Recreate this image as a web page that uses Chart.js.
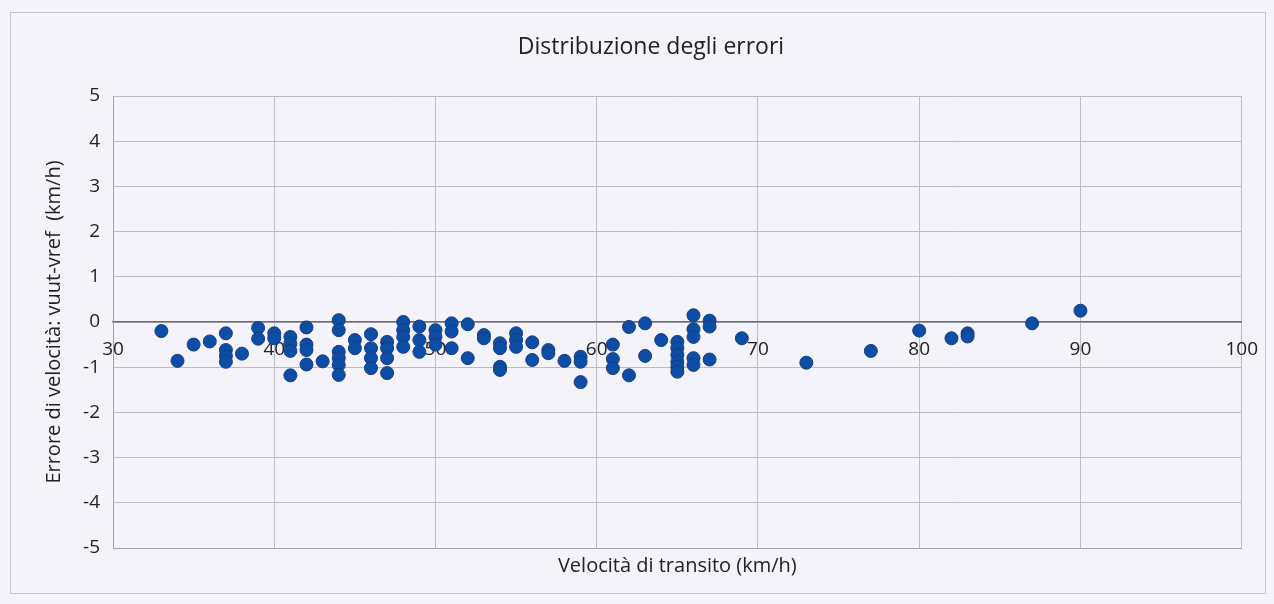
<!DOCTYPE html>
<html>
<head>
<meta charset="utf-8">
<script src="https://cdn.jsdelivr.net/npm/chart.js@4/dist/chart.umd.min.js"></script>
<style>
  body { margin: 0; background: #f3f3f9; }
  #wrap { position: relative; width: 1274px; height: 604px; }
  #frame { position: absolute; left: 10px; top: 12px; width: 1254px; height: 580px;
           border: 1px solid #c4c4cc; pointer-events: none; }
</style>
</head>
<body>
<div id="wrap">
  <canvas id="scatterChart" width="1274" height="604"></canvas>
  <div id="frame"></div>
</div>
<script>
// velocità di transito (km/h)
var speeds = [
    33, 34, 35, 36,
    37, 37, 37, 37,
    38, 39, 39, 40, 40,
    41, 41, 41, 41,
    42, 42, 42, 42,
    43,
    44, 44, 44, 44, 44, 44,
    45, 45,
    46, 46, 46, 46,
    47, 47, 47, 47,
    48, 48, 48, 48,
    49, 49, 49,
    50, 50, 50,
    51, 51, 51,
    52, 52, 53, 53,
    54, 54, 54, 54,
    55, 55, 55,
    56, 56, 57, 57, 58,
    59, 59, 59,
    61, 61, 61,
    62, 62, 63, 63, 64,
    65, 65, 65, 65, 65, 65,
    66, 66, 66, 66, 66,
    67, 67, 67,
    69, 73, 77, 80, 82, 83, 83, 87, 90
];
// errore vuut-vref (km/h)
var errors = [
    -0.2, -0.86, -0.5, -0.43,
    -0.25, -0.62, -0.75, -0.88,
    -0.7, -0.13, -0.37, -0.25, -0.36,
    -0.33, -0.48, -0.64, -1.18,
    -0.12, -0.5, -0.62, -0.94,
    -0.87,
    0.04, -0.18, -0.66, -0.8, -0.95, -1.17,
    -0.4, -0.58,
    -0.27, -0.58, -0.8, -1.02,
    -0.44, -0.58, -0.8, -1.13,
    0.0, -0.18, -0.33, -0.55,
    -0.1, -0.4, -0.66,
    -0.18, -0.33, -0.5,
    -0.03, -0.21, -0.58,
    -0.05, -0.8, -0.29, -0.36,
    -0.47, -0.58, -0.99, -1.06,
    -0.25, -0.4, -0.55,
    -0.45, -0.84, -0.62, -0.69, -0.86,
    -0.77, -0.88, -1.33,
    -0.5, -0.82, -1.02,
    -0.11, -1.18, -0.03, -0.75, -0.4,
    -0.44, -0.58, -0.73, -0.88, -0.99, -1.1,
    0.15, -0.16, -0.33, -0.8, -0.95,
    0.03, -0.1, -0.83,
    -0.36, -0.9, -0.64, -0.19, -0.36, -0.25, -0.32, -0.03, 0.25
];
var xTicks = [30, 40, 50, 60, 70, 80, 90, 100];
var yTicks = [-5, -4, -3, -2, -1, 0, 1, 2, 3, 4, 5];

var points = speeds.map(function (v, i) { return { x: v, y: errors[i] }; });
var fontFamily = "'Open Sans', 'Noto Sans', sans-serif";

var ctx = document.getElementById("scatterChart").getContext('2d');
var chart = new Chart(ctx, {
    type: 'scatter',
    data: {
        datasets: [{
            label: "Errori",
            data: points,
            backgroundColor: '#0c4da5',
            borderColor: '#1a3c7e',
            borderWidth: 1,
            pointRadius: 6.5,
            pointHoverRadius: 6.5
        }]
    },
    options: {
        responsive: false,
        animation: false,
        // left padding is larger so the title sits a bit right of centre, as in the original
        layout: { padding: { left: 60, right: 32, top: 0, bottom: 0 } },
        plugins: {
            legend: { display: false },
            tooltip: { enabled: false },
            title: {
                display: true,
                text: "Distribuzione degli errori",
                color: '#222',
                font: { family: fontFamily, size: 23, weight: 'normal' },
                padding: { top: 34, bottom: 34.4 }
            }
        },
        scales: {
            x: {
                type: 'linear',
                position: 'bottom',
                min: 30,
                max: 100,
                afterBuildTicks: function (s) { s.ticks = xTicks.map(function (v) { return { value: v }; }); },
                ticks: { display: false },
                grid: { color: '#bcbcc4', drawTicks: false },
                border: { color: '#a0a0a8' },
                title: {
                    display: true,
                    text: "Velocità di transito (km/h)",
                    color: '#222',
                    font: { family: fontFamily, size: 20 },
                    padding: { top: 0, bottom: 26 }
                },
                afterFit: function (s) { s.height = 56; }
            },
            x0: {
                type: 'linear',
                axis: 'x',
                position: { y: 0 },
                min: 30,
                max: 100,
                afterBuildTicks: function (s) { s.ticks = xTicks.map(function (v) { return { value: v }; }); },
                ticks: {
                    color: '#222',
                    padding: 16,
                    maxRotation: 0,
                    font: { family: fontFamily, size: 19 }
                },
                grid: { display: false, drawTicks: false },
                border: { color: '#6e6e76', width: 1.5 },
                afterFit: function (s) { s.height = 0; }
            },
            y: {
                type: 'linear',
                min: -5,
                max: 5,
                afterBuildTicks: function (s) { s.ticks = yTicks.map(function (v) { return { value: v }; }); },
                ticks: {
                    color: '#222',
                    padding: 13,
                    font: { family: fontFamily, size: 19 }
                },
                grid: { color: '#bcbcc4', drawTicks: false },
                border: { color: '#a0a0a8' },
                title: {
                    display: true,
                    text: "Errore di velocità: vuut-vref  (km/h)",
                    color: '#222',
                    font: { family: fontFamily, size: 20 },
                    padding: { top: -18, bottom: 0 }
                },
                afterFit: function (s) { s.width = 53; }
            }
        }
    }
});
</script>
</body>
</html>
